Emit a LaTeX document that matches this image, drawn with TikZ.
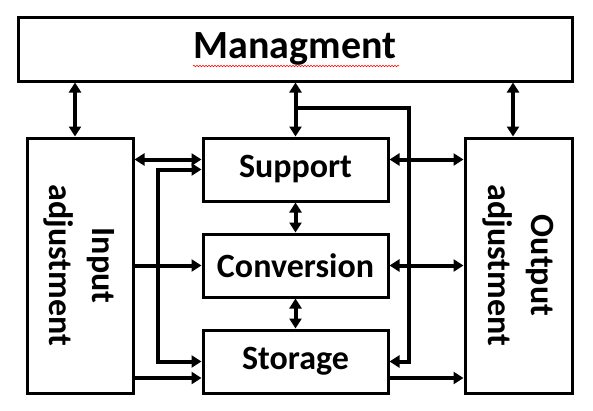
\documentclass[tikz,border=0pt]{standalone}
\usepackage{fontspec}
\setmainfont{Carlito}
\usetikzlibrary{positioning, arrows.meta, calc, decorations.pathmorphing}

\begin{document}
\begin{tikzpicture}[x=1pt,y=-1pt,>={Triangle[length=10pt,width=12pt]},line width=4pt,
                    node distance=30pt,
                    block node/.style={rectangle,draw,line width=3pt,inner sep=0pt,
                      minimum width=185pt,minimum height=63pt,font=\fontsize{34}{43}\selectfont\bfseries},
                    side node/.style={block node,minimum width=106pt,minimum height=255pt}]
        \useasboundingbox (0,0) rectangle (593,410);

        \node[block node, minimum width=554pt, minimum height=64pt,
              font=\fontsize{40}{48}\selectfont\bfseries] (mgmt) at (295,49) {Managment};
        \node[side node] (input) at (80,265.5)
            {\rotatebox{-90}{\begin{tabular}{c}Input\\adjustment\end{tabular}}};
        \node[side node, minimum width=107pt] (output) at (518.5,265.5)
            {\rotatebox{-90}{\begin{tabular}{c}Output\\adjustment\end{tabular}}};

        \node[block node] (support) at (295.5,169.5) {Support};
        \node[block node] (conversion) [below=of support] {Conversion};
        \node[block node] (storage) [below=of conversion] {Storage};

        % spell check mark
        \draw[red, line width=0.6pt, decorate, decoration={snake, amplitude=0.7pt, segment length=3pt}]
            ($(mgmt.center)+(-102,17)$) -- ($(mgmt.center)+(104,17)$);

        % links to managment
        \coordinate (inTop) at ([xshift=-5pt]input.north);
        \coordinate (outTop) at ([xshift=-5.5pt]output.north);
        \draw[<->] (inTop) -- (inTop |- mgmt.south);
        \draw[<->] (outTop) -- (outTop |- mgmt.south);
        \draw[<->] (support.north) -- (support.north |- mgmt.south);

        \path[<->] (support) edge (conversion)
                   (conversion) edge (storage);

        % input side
        \coordinate (supIn) at ([yshift=10pt]support.west);
        \coordinate (stoIn) at ([yshift=-16.5pt]storage.west);
        \draw[<->] (supIn -| input.east) -- (supIn);
        \draw[->] (input.east |- conversion.west) -- (conversion.west);
        \draw[->] (stoIn -| input.east) -- (stoIn);
        \draw[<->] (support.west) -- ++(-43.5,0) |- (storage.west);

        % output side
        \coordinate (supOut) at ([yshift=10pt]support.east);
        \coordinate (stoOut) at ([yshift=-16.5pt]storage.east);
        \coordinate (tapR) at ($(support.north)!0.52!(support.north |- mgmt.south)$);
        \draw[<->] (supOut) -- (supOut -| output.west);
        \draw[<->] (conversion.east) -- (conversion.east -| output.west);
        \draw[->] (stoOut) -- (stoOut -| output.west);
        \draw[->] (tapR) -| ([xshift=19.5pt]storage.east) -- (storage.east);
\end{tikzpicture}
\end{document}
